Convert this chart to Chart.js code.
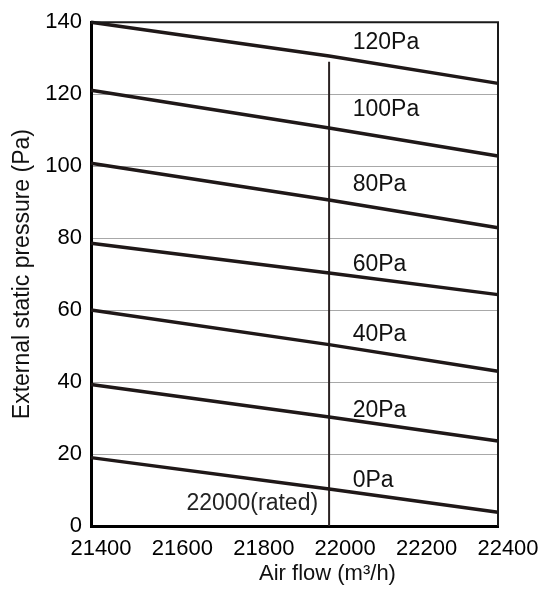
<!DOCTYPE html>
<html>
<head>
<meta charset="utf-8">
<script src="https://cdn.jsdelivr.net/npm/chart.js@4.4.0/dist/chart.umd.min.js"></script>
<style>
  html, body { margin: 0; padding: 0; background: #fff; }
  #wrap { width: 549px; height: 595px; position: relative; }
</style>
</head>
<body>
<div id="wrap"><canvas id="chart"></canvas></div>
<script>
// air flow points where each curve was read
const airFlow = [21400, 21985, 22400];

// external static pressure per setting (Pa)
const esp0 = [19.0, 10.3, 3.8];
const esp20 = [39.3, 30.3, 23.6];
const esp40 = [60.0, 50.4, 43.0];
const esp60 = [78.6, 70.3, 64.3];
const esp80 = [100.8, 90.6, 82.9];
const esp100 = [121.1, 110.6, 102.8];
const esp120 = [140.0, 130.6, 123.0];

const curveNames = ['0Pa', '20Pa', '40Pa', '60Pa', '80Pa', '100Pa', '120Pa'];
const curveLabelY = [12.7, 32.1, 53.3, 72.7, 94.8, 115.6, 134.2];
const curveLabelX = 22043;

const ratedFlow = 21985;
const ratedRange = [0, 129];
const ratedText = '22000(rated)';
const ratedTextAt = [21958, 6.3];

const xTicks = [21400, 21600, 21800, 22000, 22200, 22400];
const yTicks = [0, 20, 40, 60, 80, 100, 120, 140];

const FONT = '"Liberation Sans", Arial, sans-serif';
const LINE = '#1f1818';

const toPoints = (ys) => airFlow.map((x, i) => ({ x: x, y: ys[i] }));

const curveSet = (ys) => ({
    data: toPoints(ys),
    borderColor: LINE,
    borderWidth: 3.5,
    pointRadius: 0,
    tension: 0,
    clip: false
});

const overlay = {
    id: 'overlay',
    afterDraw(chart) {
        const { ctx, chartArea, scales: { x, y } } = chart;
        ctx.save();
        // top + right frame
        ctx.strokeStyle = '#1a1a1a';
        ctx.lineWidth = 2;
        ctx.beginPath();
        ctx.moveTo(chartArea.left, chartArea.top);
        ctx.lineTo(chartArea.right, chartArea.top);
        ctx.lineTo(chartArea.right, chartArea.bottom);
        ctx.stroke();

        ctx.fillStyle = '#111';
        ctx.font = '23px ' + FONT;
        ctx.textBaseline = 'middle';
        ctx.textAlign = 'left';
        curveNames.forEach((t, i) => {
            ctx.fillText(t, x.getPixelForValue(curveLabelX), y.getPixelForValue(curveLabelY[i]));
        });
        ctx.fillStyle = '#222';
        ctx.textAlign = 'right';
        ctx.fillText(ratedText, x.getPixelForValue(ratedTextAt[0]), y.getPixelForValue(ratedTextAt[1]));

        // x axis title sits right of centre in the original
        ctx.fillStyle = '#111';
        ctx.font = '22px ' + FONT;
        ctx.textAlign = 'center';
        ctx.fillText('Air flow (m³/h)', (chartArea.left + chartArea.right) / 2 + 33, chartArea.bottom + 48);
        ctx.restore();
    }
};

new Chart(document.getElementById('chart').getContext('2d'), {
    type: 'line',
    data: {
        datasets: [
            curveSet(esp0),
            curveSet(esp20),
            curveSet(esp40),
            curveSet(esp60),
            curveSet(esp80),
            curveSet(esp100),
            curveSet(esp120),
            {
                data: ratedRange.map(v => ({ x: ratedFlow, y: v })),
                borderColor: '#2a2222',
                borderWidth: 2,
                pointRadius: 0
            }
        ]
    },
    options: {
        responsive: true,
        maintainAspectRatio: false,
        animation: false,
        layout: { autoPadding: false, padding: { top: 20, right: 51, left: 0, bottom: 0 } },
        plugins: { legend: { display: false }, tooltip: { enabled: false } },
        scales: {
            x: {
                type: 'linear',
                min: 21400,
                max: 22400,
                afterBuildTicks: (s) => { s.ticks = xTicks.map(v => ({ value: v })); },
                afterFit: (s) => { s.height = 69; },
                grid: { display: false, drawTicks: false },
                border: { color: '#000', width: 3 },
                ticks: {
                    color: '#000',
                    font: { family: FONT, size: 22 },
                    padding: 10,
                    labelOffset: 10,
                    maxRotation: 0,
                    callback: (v) => String(v)
                }
            },
            y: {
                min: 0,
                max: 140,
                afterBuildTicks: (s) => { s.ticks = yTicks.map(v => ({ value: v })); },
                afterFit: (s) => { s.width = 91; },
                grid: { color: '#a8a8a8', lineWidth: 1, drawTicks: false },
                border: { color: '#000', width: 3 },
                ticks: {
                    color: '#000',
                    font: { family: FONT, size: 22 },
                    padding: 9
                },
                title: {
                    display: true,
                    text: 'External static pressure (Pa)',
                    color: '#111',
                    font: { family: FONT, size: 23 },
                    padding: { top: 9, bottom: 0 }
                }
            }
        }
    },
    plugins: [overlay]
});
</script>
</body>
</html>
